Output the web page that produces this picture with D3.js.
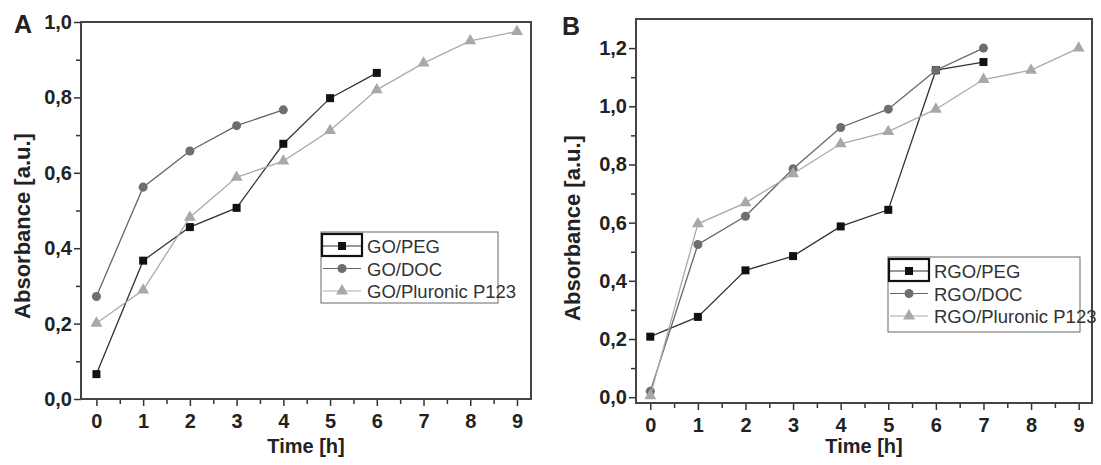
<!DOCTYPE html>
<meta charset="utf-8">
<style>
body { margin: 0; background: #fff; }
svg { font-family: "Liberation Sans", Arial, sans-serif; }
.frame { fill: none; stroke: #444; stroke-width: 2; }
.axis path { display: none; }
.axis line { stroke: #333; stroke-width: 1.5; }
.label { font-size: 22px; font-weight: bold; fill: #222; text-anchor: middle; }
.xlabel { font-size: 20px; }
.panel-tag { font-size: 25px; font-weight: bold; fill: #222; }
.legend rect.box { fill: #fff; stroke: #666; stroke-width: 1; }
.legend text { font-size: 18.5px; fill: #333; }
</style>
<svg class="canvas"></svg>
<script src="https://cdn.jsdelivr.net/npm/d3@7"></script>
<script>

// time points (hours)
var hours = [0, 1, 2, 3, 4, 5, 6, 7, 8, 9];

// panel A
var goPeg = [0.066, 0.367, 0.456, 0.507, 0.677, 0.798, 0.865];
var goDoc = [0.272, 0.562, 0.658, 0.725, 0.767];
var goPluronic = [0.201, 0.289, 0.482, 0.588, 0.631, 0.712, 0.820, 0.891, 0.950, 0.975];
var namesA = ["GO/PEG", "GO/DOC", "GO/Pluronic P123"];

// panel B
var rgoPeg = [0.208, 0.276, 0.436, 0.485, 0.587, 0.644, 1.124, 1.152];
var rgoDoc = [0.02, 0.525, 0.622, 0.785, 0.927, 0.990, 1.124, 1.200];
var rgoPluronic = [0.005, 0.596, 0.668, 0.768, 0.871, 0.913, 0.990, 1.092, 1.124, 1.200];
var namesB = ["RGO/PEG", "RGO/DOC", "RGO/Pluronic P123"];

var xMajor = [0, 1, 2, 3, 4, 5, 6, 7, 8, 9];
var xMinor = [0.5, 1.5, 2.5, 3.5, 4.5, 5.5, 6.5, 7.5, 8.5];
var yMajorA = [0, 0.2, 0.4, 0.6, 0.8, 1.0];
var yMinorA = [0.1, 0.3, 0.5, 0.7, 0.9];
var yMajorB = [0, 0.2, 0.4, 0.6, 0.8, 1.0, 1.2];
var yMinorB = [0.1, 0.3, 0.5, 0.7, 0.9, 1.1];

var WIDTH = 1101, HEIGHT = 465;

// one style per series: line colour, marker fill, marker symbol
var styles = [
	{ line: "#333", fill: "#111", symbol: d3.symbolSquare, size: 64 },
	{ line: "#666", fill: "#6e6e6e", symbol: d3.symbolCircle, size: 64 },
	{ line: "#aaa", fill: "#a8a8a8", symbol: d3.symbolTriangle, size: 62 }
];

var comma = function(d) { return d3.format(".1f")(d).replace(".", ","); };

var canvas = d3.select(".canvas")
	.attr("width", WIDTH)
	.attr("height", HEIGHT);

function styleTicks(sel) {
	sel.attr("font-family", null).attr("font-size", null);
	sel.selectAll("text")
		.style("font-size", "20px")
		.style("font-weight", "bold")
		.style("fill", "#222");
}

function drawPanel(p) {
	var x = d3.scaleLinear().domain(p.xDomain).range([p.left, p.right]);
	var y = d3.scaleLinear().domain(p.yDomain).range([p.bottom, p.top]);
	var g = canvas.append("g");

	// ticks
	g.append("g").attr("class", "axis")
		.attr("transform", "translate(0," + p.bottom + ")")
		.call(d3.axisBottom(x).tickValues(xMajor).tickSize(7).tickPadding(8).tickFormat(d3.format("d")))
		.call(styleTicks);
	g.append("g").attr("class", "axis")
		.attr("transform", "translate(0," + p.bottom + ")")
		.call(d3.axisBottom(x).tickValues(xMinor).tickSize(5).tickFormat(""));
	g.append("g").attr("class", "axis")
		.attr("transform", "translate(" + p.left + ",0)")
		.call(d3.axisLeft(y).tickValues(p.yMajor).tickSize(7).tickPadding(2).tickFormat(comma))
		.call(styleTicks);
	g.append("g").attr("class", "axis")
		.attr("transform", "translate(" + p.left + ",0)")
		.call(d3.axisLeft(y).tickValues(p.yMinor).tickSize(5).tickFormat(""));

	g.append("rect").attr("class", "frame")
		.attr("x", p.left).attr("y", p.top)
		.attr("width", p.right - p.left).attr("height", p.bottom - p.top);

	// series
	var line = d3.line()
		.x(function(d, i) { return x(hours[i]); })
		.y(function(d) { return y(d); });

	p.series.forEach(function(vals, k) {
		var s = styles[k];
		g.append("path")
			.attr("d", line(vals))
			.attr("fill", "none")
			.attr("stroke", s.line)
			.attr("stroke-width", 1.3);
		g.selectAll(null).data(vals).enter().append("path")
			.attr("transform", function(d, i) { return "translate(" + x(hours[i]) + "," + y(d) + ")"; })
			.attr("d", d3.symbol().type(s.symbol).size(s.size))
			.attr("fill", s.fill);
	});

	// axis titles
	g.append("text").attr("class", "label xlabel")
		.attr("x", (p.left + p.right) / 2).attr("y", 453)
		.text("Time [h]");
	g.append("text").attr("class", "label")
		.attr("transform", "translate(" + p.ylabelX + "," + p.ylabelY + ") rotate(-90)")
		.text("Absorbance [a.u.]");
	g.append("text").attr("class", "panel-tag")
		.attr("x", p.tagX).attr("y", p.tagY)
		.text(p.tag);

	// legend
	var lg = g.append("g").attr("class", "legend");
	lg.append("rect").attr("class", "box")
		.attr("x", p.legend.x).attr("y", p.legend.y)
		.attr("width", p.legend.w).attr("height", p.legend.h);
	p.names.forEach(function(name, k) {
		var s = styles[k];
		var ly = p.legend.y + 14 + k * 22.5;
		var lx = p.legend.x;
		lg.append("line")
			.attr("x1", lx + 2).attr("x2", lx + 40)
			.attr("y1", ly).attr("y2", ly)
			.attr("stroke", s.line).attr("stroke-width", 1.2);
		lg.append("path")
			.attr("transform", "translate(" + (lx + 21) + "," + ly + ")")
			.attr("d", d3.symbol().type(s.symbol).size(s.size))
			.attr("fill", s.fill);
		lg.append("text")
			.attr("x", lx + 46).attr("y", ly + 7)
			.text(name);
	});
	// highlighted first legend symbol
	lg.append("rect")
		.attr("x", p.legend.x + 1).attr("y", p.legend.y + 2)
		.attr("width", 40).attr("height", 22)
		.attr("fill", "none").attr("stroke", "#111").attr("stroke-width", 2.2);
}

drawPanel({
	tag: "A", tagX: 14, tagY: 33,
	left: 81, right: 531, top: 22, bottom: 399,
	xDomain: [-0.33, 9.3], yDomain: [0, 1.0],
	yMajor: yMajorA, yMinor: yMinorA,
	ylabelX: 30, ylabelY: 226,
	series: [goPeg, goDoc, goPluronic],
	names: namesA,
	legend: { x: 321, y: 232, w: 177, h: 71 }
});

drawPanel({
	tag: "B", tagX: 562, tagY: 35,
	left: 636, right: 1092, top: 19, bottom: 403,
	xDomain: [-0.3, 9.28], yDomain: [-0.02, 1.30],
	yMajor: yMajorB, yMinor: yMinorB,
	ylabelX: 580, ylabelY: 228,
	series: [rgoPeg, rgoDoc, rgoPluronic],
	names: namesB,
	legend: { x: 888, y: 257, w: 192, h: 75 }
});

</script>
